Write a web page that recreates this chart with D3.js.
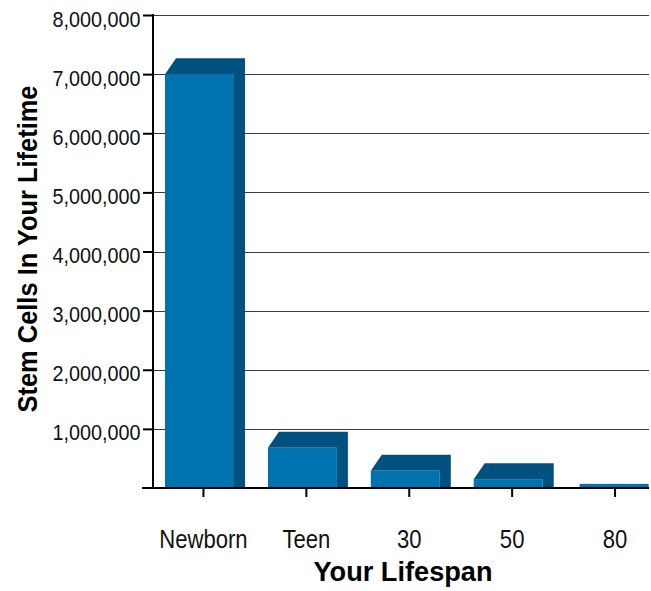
<!DOCTYPE html>
<html>
<head>
<meta charset="utf-8">
<script src="https://cdn.jsdelivr.net/npm/d3@7"></script>
<style>
  html, body { margin: 0; padding: 0; background: #fff; }
  svg { display: block; }
  .lbl { font-family: "Liberation Sans", Arial, sans-serif; fill: #111; }
  .title { font-family: "Liberation Sans", Arial, sans-serif; font-weight: bold; fill: #000; }
</style>
</head>
<body>
<svg id="chart" width="651" height="591"></svg>
<script>
// Stages of life and the stem cells counted at each
const stages = ["Newborn", "Teen", "30", "50", "80"];
const stemCells = [7000000, 680000, 290000, 150000, 70000];
const yTicks = [1000000, 2000000, 3000000, 4000000, 5000000, 6000000, 7000000, 8000000];
const xTitle = "Your Lifespan";
const yTitle = "Stem Cells In Your Lifetime";

const svg = d3.select("#chart");
const axisX = 153, baseY = 488, topY = 15, rightX = 649;

const y = d3.scaleLinear().domain([0, 8000000]).range([baseY, topY]);
const x = d3.scaleBand().domain(stages).range([152, 666.5]).padding(0);

const frontColor = "#0072ae";
const darkColor = "#00517f";
const faceInset = 13, faceWidth = 69, depthX = 11, depthY = 16;

// horizontal grid lines
svg.append("g")
  .selectAll("line")
  .data(yTicks)
  .join("line")
  .attr("x1", axisX).attr("x2", rightX)
  .attr("y1", d => Math.round(y(d)) + 0.5).attr("y2", d => Math.round(y(d)) + 0.5)
  .attr("stroke", "#3a3a3a").attr("stroke-width", 1);

// bars: front face plus a darker top/side face for depth
const bars = svg.append("g").selectAll("g").data(stages).join("g");
bars.each(function(s, i) {
  const g = d3.select(this);
  const x0 = x(s) + faceInset, x1 = x0 + faceWidth;
  const top = y(stemCells[i]);
  const flat = i === stages.length - 1; // oldest group drawn as a flat strip
  if (!flat) {
    g.append("path")
      .attr("d", `M${x0},${top}L${x0 + depthX},${top - depthY}L${x1 + depthX},${top - depthY}L${x1 + depthX},${baseY}L${x1},${baseY}L${x1},${top}Z`)
      .attr("fill", darkColor);
  }
  g.append("rect")
    .attr("x", flat ? x0 + 3 : x0).attr("y", top)
    .attr("width", flat ? Math.min(faceWidth, rightX - x0 - 3) : faceWidth)
    .attr("height", baseY - top)
    .attr("fill", frontColor);
});

// y axis
const yAxis = d3.axisLeft(y).tickValues(yTicks).tickSize(10).tickPadding(4)
  .tickFormat(d3.format(","));
const gy = svg.append("g").attr("transform", `translate(${axisX},0)`).call(yAxis);
gy.attr("font-family", null).attr("font-size", null);
gy.select(".domain").remove();
gy.selectAll(".tick line").attr("stroke", "#000").attr("stroke-width", 2);
gy.selectAll(".tick text").attr("class", "lbl").attr("font-size", 22).attr("dy", "0.5em")
  .attr("transform", "scale(0.9,1)");

svg.append("line")
  .attr("x1", axisX).attr("x2", axisX).attr("y1", topY - 1).attr("y2", baseY + 1)
  .attr("stroke", "#000").attr("stroke-width", 2);

// x axis
const xAxis = d3.axisBottom(x).tickSize(9).tickPadding(33);
const gx = svg.append("g").attr("transform", `translate(0,${baseY})`).call(xAxis);
gx.attr("font-family", null).attr("font-size", null);
gx.select(".domain").remove();
gx.selectAll(".tick line").attr("stroke", "#000").attr("stroke-width", 2);
gx.selectAll(".tick text").attr("class", "lbl").attr("font-size", 26).attr("dy", "0.71em")
  .attr("transform", "scale(0.85,1)");

svg.append("line")
  .attr("x1", 142).attr("x2", rightX).attr("y1", baseY).attr("y2", baseY)
  .attr("stroke", "#000").attr("stroke-width", 2);

// axis titles
svg.append("text").attr("class", "title")
  .attr("x", 403).attr("y", 581).attr("text-anchor", "middle")
  .attr("font-size", 27).attr("textLength", 179).attr("lengthAdjust", "spacingAndGlyphs")
  .text(xTitle);

svg.append("text").attr("class", "title")
  .attr("transform", "translate(37,249) rotate(-90)")
  .attr("text-anchor", "middle").attr("font-size", 28)
  .attr("textLength", 327).attr("lengthAdjust", "spacingAndGlyphs")
  .text(yTitle);
</script>
</body>
</html>
